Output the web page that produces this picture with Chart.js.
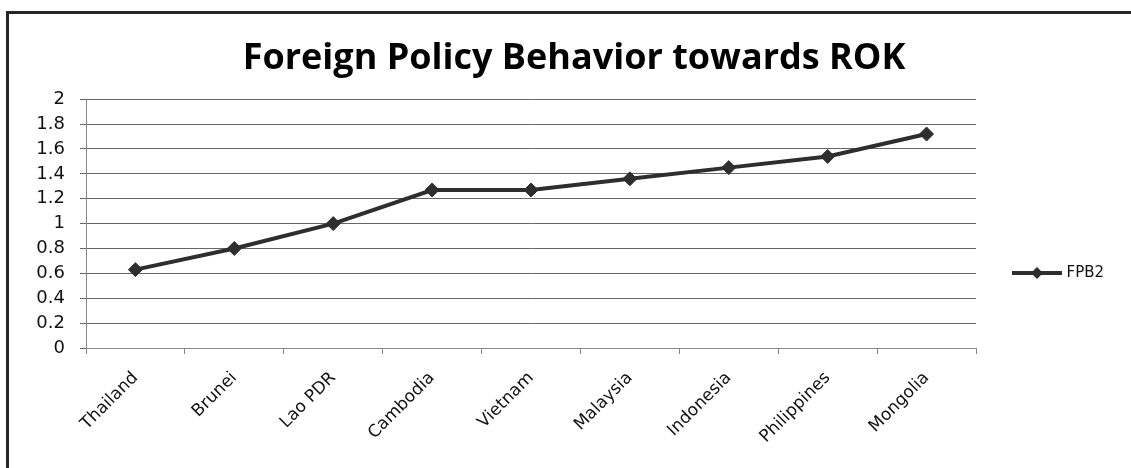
<!DOCTYPE html>
<html>
<head>
<meta charset="utf-8">
<title>Foreign Policy Behavior towards ROK</title>
<script src="https://cdn.jsdelivr.net/npm/chart.js@4.4.1/dist/chart.umd.min.js"></script>
<style>
html, body { margin: 0; padding: 0; width: 1131px; height: 468px; overflow: hidden; background: #fff; }
#frame { position: absolute; left: 6px; top: 11px; width: 1300px; height: 700px;
         border-left: 3px solid #262626; border-top: 3px solid #262626; }
#wrap { position: absolute; left: 0; top: 0; width: 1148px; height: 534px; }
</style>
</head>
<body>
<div id="frame"></div>
<div id="wrap"><canvas id="myChart"></canvas></div>

<script>
// data
var countries = ['Thailand', 'Brunei', 'Lao PDR', 'Cambodia', 'Vietnam', 'Malaysia', 'Indonesia', 'Philippines', 'Mongolia'];
var fpb2 = [0.63, 0.80, 1.00, 1.27, 1.27, 1.36, 1.45, 1.54, 1.72];
var yTickLabels = ['0', '0.2', '0.4', '0.6', '0.8', '1', '1.2', '1.4', '1.6', '1.8', '2'];

var ink = '#2e2e2e';
var pad = { left: 6, right: 6, top: 12, bottom: 0 };

Chart.defaults.font.family = '"DejaVu Sans", sans-serif';

// legend marker: line with a diamond in the middle
var mark = document.createElement('canvas');
mark.width = 50; mark.height = 14;
var m = mark.getContext('2d');
m.fillStyle = ink;
m.fillRect(0, 5, 50, 4);
m.beginPath();
m.moveTo(25, 1); m.lineTo(31, 7); m.lineTo(25, 13); m.lineTo(19, 7);
m.closePath(); m.fill();

var ctx = document.getElementById('myChart').getContext('2d');
var myChart = new Chart(ctx, {
  type: 'line',
  data: {
    labels: countries,
    datasets: [{
      label: 'FPB2',
      data: fpb2,
      borderColor: ink,
      backgroundColor: ink,
      borderWidth: 4,
      tension: 0,
      fill: false,
      pointStyle: 'rectRot',
      pointRadius: 7,
      pointHoverRadius: 7,
      pointBackgroundColor: ink,
      pointBorderColor: ink,
      pointBorderWidth: 1
    }]
  },
  options: {
    responsive: true,
    maintainAspectRatio: false,
    animation: false,
    devicePixelRatio: 1,
    layout: { padding: pad },
    plugins: {
      title: {
        display: true,
        text: 'Foreign Policy Behavior towards ROK',
        color: '#000',
        font: { family: '"Open Sans", sans-serif', size: 36, weight: 'bold' },
        padding: { top: 25, bottom: 19 }
      },
      legend: {
        position: 'right',
        align: 'center',
        labels: {
          usePointStyle: true,
          pointStyle: mark,
          pointStyleWidth: 44,
          padding: 39,
          color: '#111',
          font: { size: 15 }
        }
      },
      tooltip: { enabled: false }
    },
    scales: {
      x: {
        offset: true,
        grid: { drawOnChartArea: false, drawTicks: true, tickLength: 6, offset: true, color: '#888' },
        border: { color: '#888', width: 1 },
        ticks: { minRotation: 45, maxRotation: 45, color: '#111', font: { size: 17 }, padding: 14 },
        afterFit: function (s) { s.height = 186; }
      },
      y: {
        min: 0,
        max: 2,
        ticks: {
          stepSize: 0.2,
          color: '#111',
          font: { size: 18 },
          padding: 15,
          callback: function (v, i) { return yTickLabels[i]; }
        },
        grid: { color: '#666', tickLength: 6 },
        border: { color: '#888', width: 1 },
        afterFit: function (s) { s.width = 86 - pad.left; }
      }
    }
  }
});

// push the plot's right edge to where the original has it, keep title centred
var shift = myChart.chartArea.right - 976;
pad.right += shift;
pad.left = pad.right;
myChart.options.layout.padding = { left: pad.left, right: pad.right, top: pad.top, bottom: pad.bottom };
myChart.update();
</script>
</body>
</html>
